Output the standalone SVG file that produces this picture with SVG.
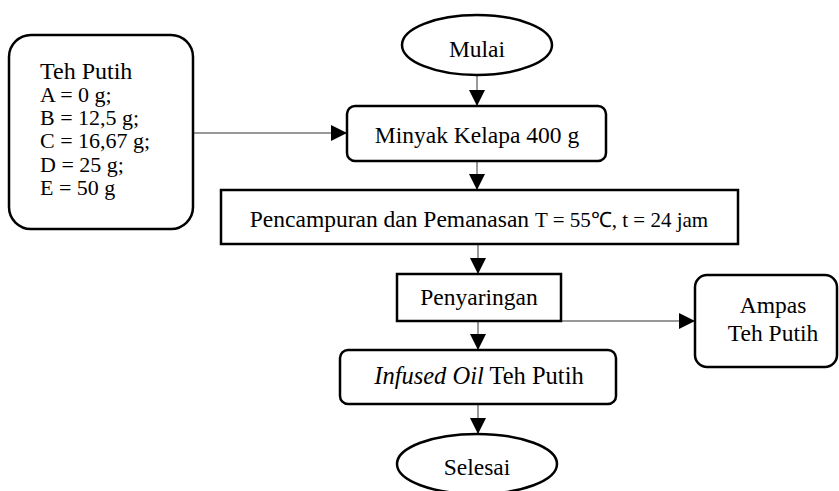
<svg xmlns="http://www.w3.org/2000/svg" width="839" height="491" viewBox="0 0 839 491">
<style>
.box{fill:#fff;stroke:#000;stroke-width:2.5}
.t{font-family:"Liberation Serif","Times New Roman",serif;font-size:23.5px;fill:#000}
.c{text-anchor:middle}
.ln{stroke:#333;stroke-width:1;fill:none}
</style>
<defs>
<marker id="ah" markerUnits="userSpaceOnUse" markerWidth="16" markerHeight="16" refX="16" refY="8" orient="auto">
<path d="M0,0 L16,8 L0,16 z" fill="#000"/>
</marker>
</defs>
<rect width="839" height="491" fill="#fff"/>
<g id="connectors">
<line class="ln" x1="477" y1="75" x2="477" y2="106" marker-end="url(#ah)"/>
<line class="ln" x1="193" y1="133" x2="347" y2="133" marker-end="url(#ah)"/>
<line class="ln" x1="477" y1="161" x2="477" y2="190" marker-end="url(#ah)"/>
<line class="ln" x1="478" y1="244" x2="478" y2="274" marker-end="url(#ah)"/>
<line class="ln" x1="561" y1="321" x2="695" y2="321" marker-end="url(#ah)"/>
<line class="ln" x1="478" y1="321" x2="478" y2="350" marker-end="url(#ah)"/>
<line class="ln" x1="478" y1="404" x2="478" y2="434" marker-end="url(#ah)"/>
</g>
<g id="mulai">
<ellipse class="box" cx="477" cy="45" rx="75" ry="30"/>
<text class="t c" x="477" y="57">Mulai</text>
</g>
<g id="teh-putih">
<rect class="box" x="9" y="35" width="184" height="194" rx="22"/>
<text class="t" x="40" y="79" style="font-size:24px">Teh Putih</text>
<text class="t" x="40" y="102" style="font-size:22px">A = 0 g;</text>
<text class="t" x="40" y="125" style="font-size:22px">B = 12,5 g;</text>
<text class="t" x="40" y="148" style="font-size:22px">C = 16,67 g;</text>
<text class="t" x="40" y="172" style="font-size:22px">D = 25 g;</text>
<text class="t" x="40" y="195" style="font-size:22px">E = 50 g</text>
</g>
<g id="minyak">
<rect class="box" x="347" y="106" width="259" height="55" rx="8"/>
<text class="t c" x="477" y="143">Minyak Kelapa 400 g</text>
</g>
<g id="pencampuran">
<rect class="box" x="221" y="190" width="517" height="54"/>
<text class="t c" x="479" y="227">Pencampuran dan Pemanasan <tspan style="font-size:21px">T = 55℃, t = 24 jam</tspan></text>
</g>
<g id="penyaringan">
<rect class="box" x="397" y="274" width="164" height="47"/>
<text class="t c" x="479" y="305">Penyaringan</text>
</g>
<g id="ampas">
<rect class="box" x="695" y="275" width="142" height="92" rx="12"/>
<text class="t c" x="773" y="313">Ampas</text>
<text class="t c" x="773" y="341">Teh Putih</text>
</g>
<g id="infused">
<rect class="box" x="340" y="350" width="276" height="54" rx="8"/>
<text class="t c" x="479" y="384" style="font-size:24.5px"><tspan font-style="italic">Infused Oil</tspan> Teh Putih</text>
</g>
<g id="selesai">
<ellipse class="box" cx="477" cy="464" rx="80" ry="30"/>
<text class="t c" x="477" y="475">Selesai</text>
</g>
</svg>
